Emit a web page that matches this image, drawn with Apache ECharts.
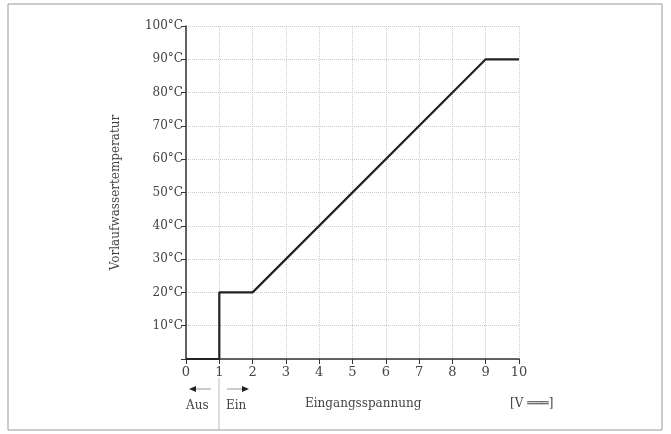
<!DOCTYPE html>
<html><head><meta charset="utf-8">
<script src="https://cdn.jsdelivr.net/npm/echarts@6/dist/echarts.min.js"></script>
<style>html,body{margin:0;background:#fff}#c{width:671px;height:434px}</style>
</head><body><div id="c"></div>
<script>
const voltage = [0, 1, 1, 2, 9, 10];
const temperature = [0, 0, 20, 20, 90, 90];
const xTicks = [0,1,2,3,4,5,6,7,8,9,10];
const yTickLabels = ['', '10°C','20°C','30°C','40°C','50°C','60°C','70°C','80°C','90°C','100°C'];
const F = 'DejaVu Serif';
const chart = echarts.init(document.getElementById('c'));
chart.setOption({
  animation: false,
  grid: {left: 186, right: 152, top: 26, bottom: 75},
  xAxis: {type: 'value', min: 0, max: 10, interval: 1,
    axisLine: {lineStyle: {color: '#333', width: 1.5}},
    axisTick: {show: true, length: 5, lineStyle: {color: '#333'}},
    axisLabel: {color: '#444', fontFamily: F, fontSize: 13, margin: 7},
    splitLine: {show: true, lineStyle: {color: '#ccc', type: 'dotted'}}},
  yAxis: {type: 'value', min: 0, max: 100, interval: 10,
    name: 'Vorlaufwassertemperatur', nameLocation: 'middle', nameGap: 64, nameRotate: 90,
    nameTextStyle: {color: '#444', fontFamily: F, fontSize: 12},
    axisLine: {show: true, lineStyle: {color: '#333', width: 1.5}},
    axisTick: {show: true, length: 5, lineStyle: {color: '#333'}},
    axisLabel: {color: '#444', fontFamily: F, fontSize: 12, margin: 3,
      formatter: v => yTickLabels[Math.round(v/10)]},
    splitLine: {show: true, lineStyle: {color: '#ccc', type: 'dotted'}}},
  series: [{type: 'line', data: voltage.map((v,i)=>[v, temperature[i]]),
    showSymbol: false, lineStyle: {color: '#222', width: 2.2}}],
  graphic: [
    {type: 'rect', shape: {x: 8, y: 4, width: 654, height: 426}, style: {fill: 'none', stroke: '#999', lineWidth: 1}},
    {type: 'line', shape: {x1: 219, y1: 378, x2: 219, y2: 430}, style: {stroke: '#bbb', lineWidth: 1}},
    {type: 'line', shape: {x1: 192, y1: 389, x2: 211, y2: 389}, style: {stroke: '#999', lineWidth: 1}},
    {type: 'polygon', shape: {points: [[189,389],[196,386],[196,392]]}, style: {fill: '#222'}},
    {type: 'line', shape: {x1: 227, y1: 389, x2: 246, y2: 389}, style: {stroke: '#999', lineWidth: 1}},
    {type: 'polygon', shape: {points: [[249,389],[242,386],[242,392]]}, style: {fill: '#222'}},
    {type: 'text', left: 186, top: 400, style: {text: 'Aus', font: '12px ' + F, fill: '#444'}},
    {type: 'text', left: 226, top: 400, style: {text: 'Ein', font: '12px ' + F, fill: '#444'}},
    {type: 'text', left: 305, top: 398, style: {text: 'Eingangsspannung', font: '12px ' + F, fill: '#444'}},
    {type: 'text', left: 510, top: 398, style: {text: '[V ═══]', font: '12px ' + F, fill: '#444'}}
  ]
});
</script></body></html>
